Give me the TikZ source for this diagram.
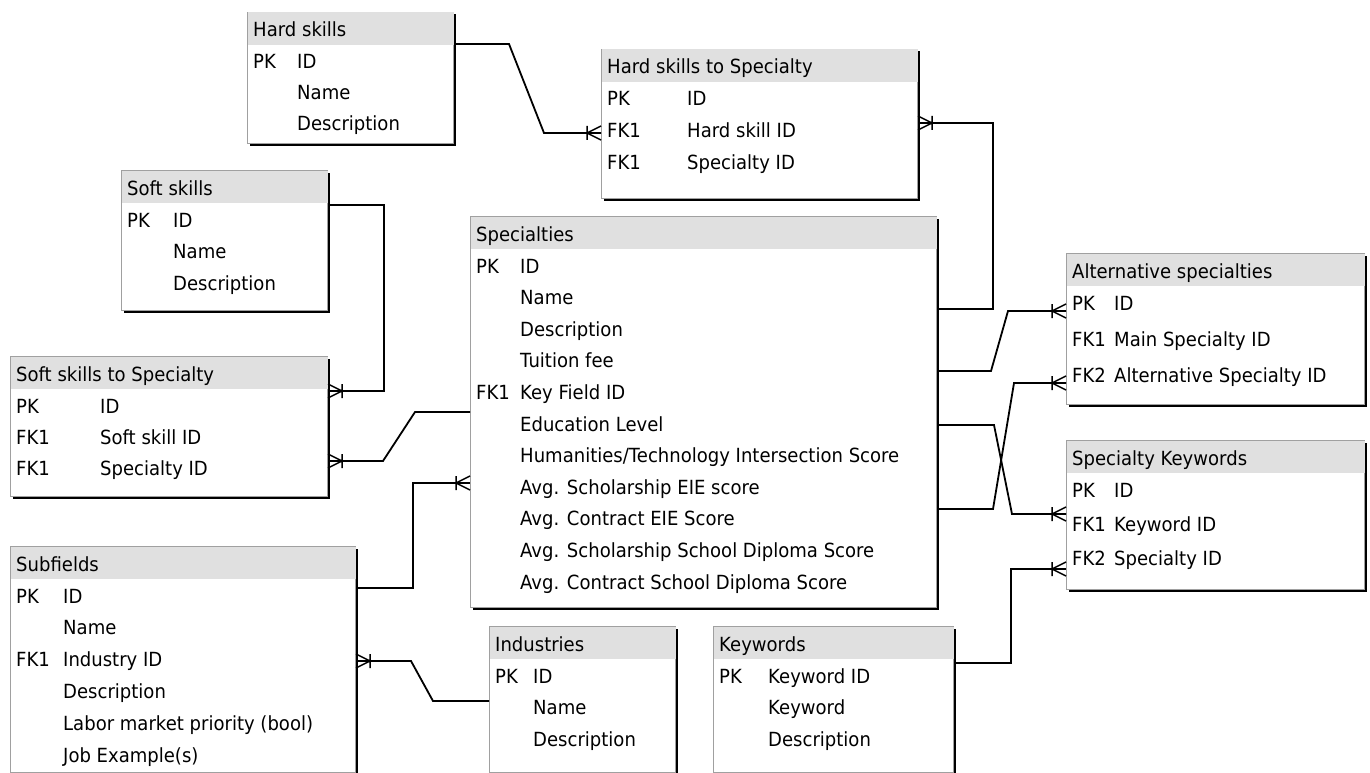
\documentclass[tikz,border=0pt]{standalone}
\usepackage{fontspec}
\setmainfont{DejaVu Sans}[FakeStretch=0.925]
\usetikzlibrary{shadows,decorations.markings}
\definecolor{headgray}{HTML}{E0E0E0}
\definecolor{tblgray}{HTML}{A0A0A0}
\tikzset{
  tbl/.style={draw=tblgray, fill=white, line width=1pt, anchor=north west, inner sep=0pt,
    drop shadow={shadow xshift=2pt, shadow yshift=-2pt, fill=black, opacity=1}},
  ttl/.style={anchor=base west, inner sep=0pt, font=\fontsize{19.5pt}{23pt}\selectfont},
  fld/.style={ttl},
  rel/.style={line width=1.8pt, postaction={decorate, decoration={markings,
    mark=at position 1 with {\draw[line width=1.5pt] (0pt,7pt) -- (-14pt,0pt) -- (0pt,-7pt) (-14pt,7pt) -- (-14pt,-7pt);}}}},
}
% name, x, y, width, height, title, field column, row step, rows
\newcommand{\erTable}[9]{%
  \node[tbl, minimum width=#4, minimum height=#5] (#1) at (#2,#3) {};
  \fill[headgray] ([shift={(0.5,-0.5)}]#1.north west) rectangle ([shift={(-0.5,-33)}]#1.north east);
  \node[ttl] (#1-title) at ([shift={(6,-25)}]#1.north west) {#6};
  \foreach \k/\f [count=\i] in {#9} {
    \node[fld] (#1-k\i) at ([shift={(6,{-57-(\i-1)*#8})}]#1.north west) {\k};
    \node[fld] (#1-f\i) at ([shift={(#7,{-57-(\i-1)*#8})}]#1.north west) {\f};
  }
}

\begin{document}
\begin{tikzpicture}[x=1pt, y=1pt]
\useasboundingbox (0,0) rectangle (1370,-773);
\erTable{hardskills}{247}{-12}{206}{131}{Hard skills}{50}{31}{PK/ID, /Name, /Description}
\erTable{hs2spec}{601}{-49}{316}{149}{Hard skills to Specialty}{86}{31.5}{PK/ID, FK1/Hard skill ID, FK1/Specialty ID}
\erTable{softskills}{121}{-170}{206}{140}{Soft skills}{52}{31.5}{PK/ID, /Name, /Description}
\erTable{ss2spec}{10}{-356}{317}{140}{Soft skills to Specialty}{90}{31}{PK/ID, FK1/Soft skill ID, FK1/Specialty ID}
\erTable{specialties}{470}{-216}{466}{391}{Specialties}{50}{31.6}{PK/ID, /Name, /Description, /Tuition fee, FK1/Key Field ID, /Education Level, /{Humanities/Technology Intersection Score}, /Avg. Scholarship EIE score, /Avg. Contract EIE Score, /Avg. Scholarship School Diploma Score, /Avg. Contract School Diploma Score}
\erTable{altspec}{1066}{-253}{298}{151}{Alternative specialties}{48}{36}{PK/ID, FK1/Main Specialty ID, FK2/Alternative Specialty ID}
\erTable{speckw}{1066}{-440}{298}{149}{Specialty Keywords}{48}{34}{PK/ID, FK1/Keyword ID, FK2/Specialty ID}
\erTable{subfields}{10}{-546}{345}{226}{Subfields}{53}{31.8}{PK/ID, /Name, FK1/Industry ID, /Description, /{Labor market priority (bool)}, /Job Example(s)}
\erTable{industries}{489}{-626}{186}{146}{Industries}{44}{31.5}{PK/ID, /Name, /Description}
\erTable{keywords}{713}{-626}{240}{146}{Keywords}{55}{31.5}{PK/Keyword ID, /Keyword, /Description}

\draw[rel] ([yshift=-32]hardskills.north east) -- ++(55,0) -- ++(35,-89) -- ([yshift=-84]hs2spec.north west);
\draw[rel] ([yshift=-93]specialties.north east) -- ++(56,0) -- ++(0,186) -- ([yshift=-74]hs2spec.north east);
\draw[rel] ([yshift=-35]softskills.north east) -- ++(56,0) -- ++(0,-186) -- ([yshift=-35]ss2spec.north east);
\draw[rel] ([yshift=-196]specialties.north west) -- ++(-55,0) -- ++(-32,-49) -- ([yshift=-105]ss2spec.north east);
\draw[rel] ([yshift=-42]subfields.north east) -- ++(57,0) -- ++(0,105) -- ([yshift=-267]specialties.north west);
\draw[rel] ([yshift=-75]industries.north west) -- ++(-56,0) -- ++(-22,40) -- ([yshift=-115]subfields.north east);
\draw[rel] ([yshift=-155]specialties.north east) -- ++(54,0) -- ++(17,60) -- ([yshift=-58]altspec.north west);
\draw[rel] ([yshift=-209]specialties.north east) -- ++(57,0) -- ++(18,-89) -- ([yshift=-74]speckw.north west);
\draw[rel] ([yshift=-293]specialties.north east) -- ++(56,0) -- ++(21,126) -- ([yshift=-130]altspec.north west);
\draw[rel] ([yshift=-37]keywords.north east) -- ++(57,0) -- ++(0,94) -- ([yshift=-129]speckw.north west);
\end{tikzpicture}
\end{document}
